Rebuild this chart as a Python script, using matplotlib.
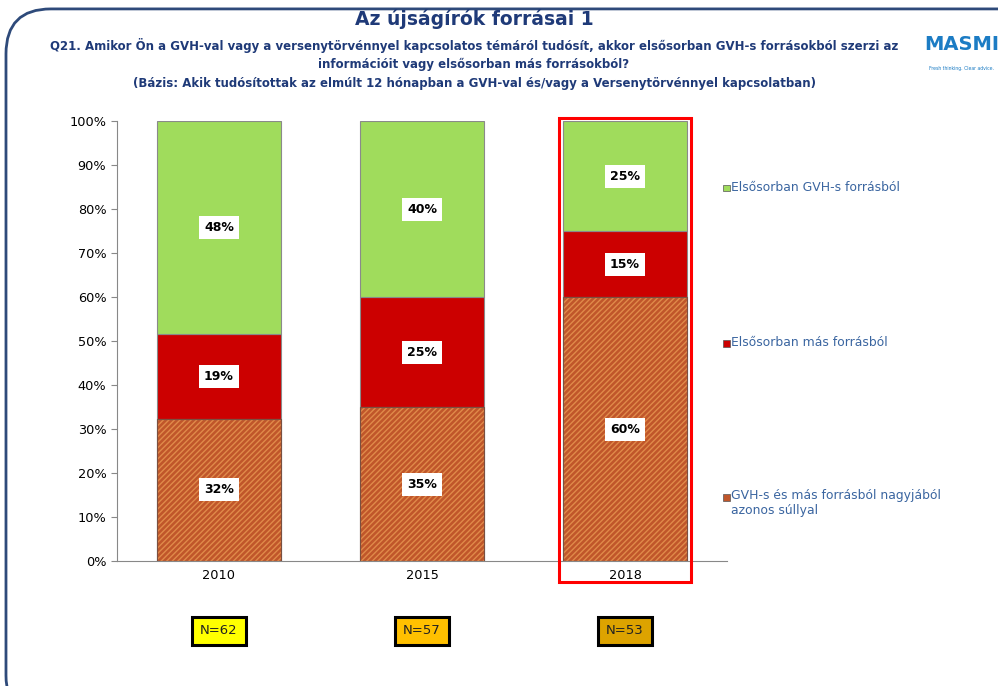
import matplotlib
matplotlib.use("Agg")
import matplotlib.pyplot as plt
import numpy as np
from matplotlib.patches import FancyBboxPatch, Rectangle

years = ["2010", "2015", "2018"]
series_names = ["GVH-s és más forrásból nagyjából\nazonos súllyal",
                "Elsősorban más forrásból",
                "Elsősorban GVH-s forrásból"]
brown_vals = [32, 35, 60]
red_vals = [19, 25, 15]
green_vals = [48, 40, 25]
n_labels = ["N=62", "N=57", "N=53"]
y_ticks = [0, 10, 20, 30, 40, 50, 60, 70, 80, 90, 100]

title = "Az újságírók forrásai 1"
subtitle = ("Q21. Amikor Ön a GVH-val vagy a versenytörvénnyel kapcsolatos témáról tudósít, akkor elsősorban GVH-s forrásokból szerzi az\n"
            "információit vagy elsősorban más forrásokból?\n"
            "(Bázis: Akik tudósítottak az elmúlt 12 hónapban a GVH-val és/vagy a Versenytörvénnyel kapcsolatban)")

colors = ["#C0562A", "#CC0000", "#A0DC5C"]
n_colors = ["#FFFF00", "#FFC000", "#DDA300"]
blue_dark = "#1F3A78"
legend_blue = "#3A65A0"

fig = plt.figure(figsize=(9.98, 6.86), dpi=100)
ax = fig.add_axes([0.1177, 0.1822, 0.6103, 0.6414])

vals = np.array([brown_vals, red_vals, green_vals], dtype=float)
pct = vals / vals.sum(axis=0) * 100
x = np.arange(len(years))
width = 0.61
bottom = np.zeros(len(years))
for i in range(3):
    ax.bar(x, pct[i], width, bottom=bottom, color=colors[i],
           edgecolor="#8a8a8a", linewidth=0.8, zorder=2)
    if i == 0:
        ax.bar(x, pct[i], width, bottom=bottom, color="none",
               edgecolor="#E08A4A", hatch="//////", linewidth=0, zorder=3)
        ax.bar(x, pct[i], width, bottom=bottom, color="none",
               edgecolor="#7a5040", linewidth=0.8, zorder=4)
    for xi, b0, v, raw in zip(x, bottom, pct[i], vals[i]):
        ax.text(xi, b0 + v / 2, f"{int(raw)}%", ha="center", va="center",
                fontsize=9, fontweight="bold", color="black", zorder=6,
                bbox=dict(boxstyle="square,pad=0.4", fc="white", ec="none"))
    bottom += pct[i]

ax.set_xlim(-0.5, 2.5)
ax.set_ylim(0, 100)
ax.set_yticks(y_ticks)
ax.set_yticklabels([f"{t}%" for t in y_ticks], fontsize=9.3)
ax.set_xticks(x)
ax.set_xticklabels(years, fontsize=9.3)
ax.tick_params(axis="x", length=0, pad=6)
ax.tick_params(axis="y", length=4, direction="out", color="#888888", pad=4)
for s in ["top", "right"]:
    ax.spines[s].set_visible(False)
for s in ["left", "bottom"]:
    ax.spines[s].set_color("#888888")

# red highlight rectangle around 2018
ax.add_patch(Rectangle((2 - 0.325, -4.8), 0.65, 105.5, fill=False, ec="#FF0000",
                       lw=2.2, clip_on=False, zorder=7))

# legend
leg_y = [0.727, 0.500, 0.2755]
leg_texts = [series_names[2], series_names[1], series_names[0]]
leg_cols = [colors[2], colors[1], colors[0]]
for yy, t, c in zip(leg_y, leg_texts, leg_cols):
    fig.patches.append(Rectangle((0.7245, yy - 0.0055), 0.0065, 0.0095, transform=fig.transFigure,
                                 fc=c, ec="#555555", lw=0.5))
    if "\n" in t:
        fig.text(0.7325, yy + 0.011, t, fontsize=8.9, color=legend_blue, va="top",
                 ha="left", linespacing=1.2)
    else:
        fig.text(0.7325, yy, t, fontsize=8.9, color=legend_blue, va="center", ha="left")

# N boxes
for xi, lab, c in zip(x, n_labels, n_colors):
    xc = ax.transData.transform((xi, 0))[0] / fig.bbox.width
    fig.text(xc, 0.0802, lab, ha="center", va="center", fontsize=9.5, color="#222222",
             bbox=dict(boxstyle="square,pad=0.6", fc=c, ec="black", lw=2.2))

# frame
frame = FancyBboxPatch((0.006, -0.05), 1.2, 1.037, boxstyle="round,pad=0,rounding_size=0.045",
                       transform=fig.transFigure, fill=False, ec="#2E4A7A", lw=2,
                       mutation_aspect=998/686)
fig.patches.append(frame)

fig.text(0.475, 0.972, title, ha="center", va="center", fontsize=13.5, fontweight="bold",
         color=blue_dark)
fig.text(0.475, 0.907, subtitle, ha="center", va="center", fontsize=8.5, fontweight="bold",
         color=blue_dark, linespacing=1.55)

# logo
fig.text(0.964, 0.935, "MASMI", ha="center", va="center", fontsize=14, fontweight="bold",
         color="#1C7CC4")
fig.text(0.963, 0.9, "Fresh thinking. Clear advice.", ha="center", va="center", fontsize=3.3,
         color="#1C7CC4")

fig.savefig("out.png", dpi=100)
